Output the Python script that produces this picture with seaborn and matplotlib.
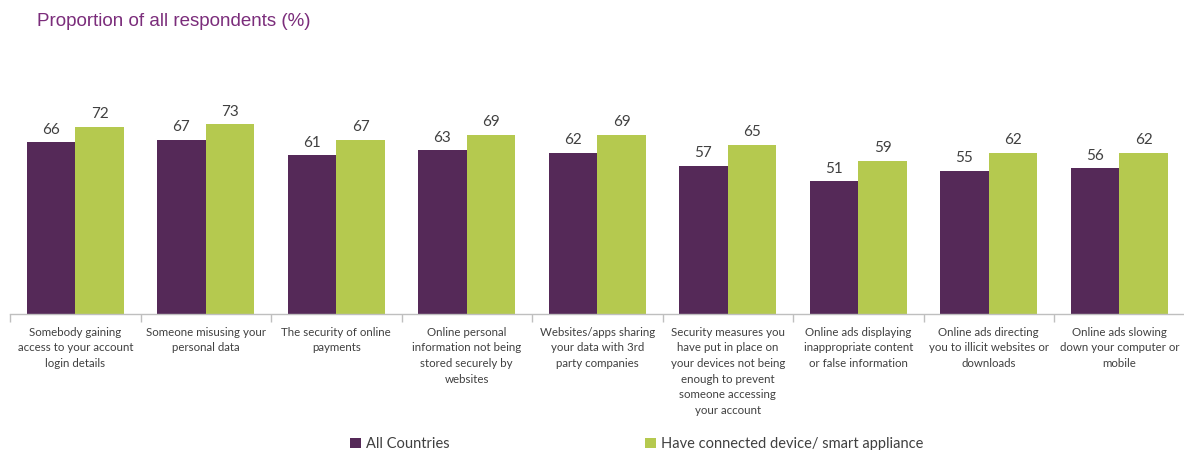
import matplotlib
matplotlib.use("Agg")
import matplotlib.pyplot as plt
from matplotlib.patches import Patch
import seaborn as sns
import pandas as pd

categories = [
    "Somebody gaining\naccess to your account\nlogin details",
    "Someone misusing your\npersonal data",
    "The security of online\npayments",
    "Online personal\ninformation not being\nstored securely by\nwebsites",
    "Websites/apps sharing\nyour data with 3rd\nparty companies",
    "Security measures you\nhave put in place on\nyour devices not being\nenough to prevent\nsomeone accessing\nyour account",
    "Online ads displaying\ninappropriate content\nor false information",
    "Online ads directing\nyou to illicit websites or\ndownloads",
    "Online ads slowing\ndown your computer or\nmobile",
]
series_names = ["All Countries", "Have connected device/ smart appliance"]
all_countries = [66, 67, 61, 63, 62, 57, 51, 55, 56]
connected = [72, 73, 67, 69, 69, 65, 59, 62, 62]
title = "Proportion of all respondents (%)"

colors = ["#552958", "#B5C94F"]

df = pd.DataFrame({
    "category": categories * 2,
    "series": [series_names[0]] * len(categories) + [series_names[1]] * len(categories),
    "value": all_countries + connected,
})

sns.set_theme(style="white")
plt.rcParams["font.family"] = ["Lato", "DejaVu Sans"]

W, H = 1184, 450
fig = plt.figure(figsize=(W / 100, H / 100), dpi=100)
ax = fig.add_axes([10 / W, (H - 314) / H, 1174.5 / W, 208 / H])

sns.barplot(data=df, x="category", y="value", hue="series", order=categories,
            hue_order=series_names, palette=colors, width=0.745, gap=0,
            saturation=1, linewidth=0, legend=False, ax=ax)

for container in ax.containers:
    ax.bar_label(container, fmt="%d", padding=4, fontsize=11, color="#404040")

ax.set_ylim(0, 80)
ax.set_xlim(-0.5, len(categories) - 0.5)
ax.set_xlabel("")
ax.set_ylabel("")
ax.set_yticks([])

for side in ["top", "right", "left"]:
    ax.spines[side].set_visible(False)
ax.spines["bottom"].set_color("#BFBFBF")
ax.spines["bottom"].set_linewidth(1)

ax.set_xticks(range(len(categories)))
ax.set_xticklabels(categories, fontsize=8.3, color="#404040", linespacing=1.52,
                   va="top")
ax.set_xticks([i - 0.5 for i in range(len(categories) + 1)], minor=True)
ax.tick_params(axis="x", which="major", length=0, pad=9)
ax.tick_params(axis="x", which="minor", length=6, color="#BFBFBF", width=1,
               bottom=True)

fig.text(37 / W, 1 - 22 / H, title, fontsize=13.5, color="#7B2D7B",
         family=["Liberation Sans", "DejaVu Sans"], va="center", ha="left")

handles = [Patch(facecolor=c, edgecolor="none") for c in colors]
fig.legend(handles, series_names, loc="center left",
           bbox_to_anchor=(343 / W, 1 - 444 / H), ncol=2, frameon=False,
           fontsize=10.5, handlelength=0.7, handleheight=0.7,
           handletextpad=0.4, columnspacing=13.4, borderpad=0,
           labelcolor="#404040")

fig.savefig("out.png", dpi=100)
